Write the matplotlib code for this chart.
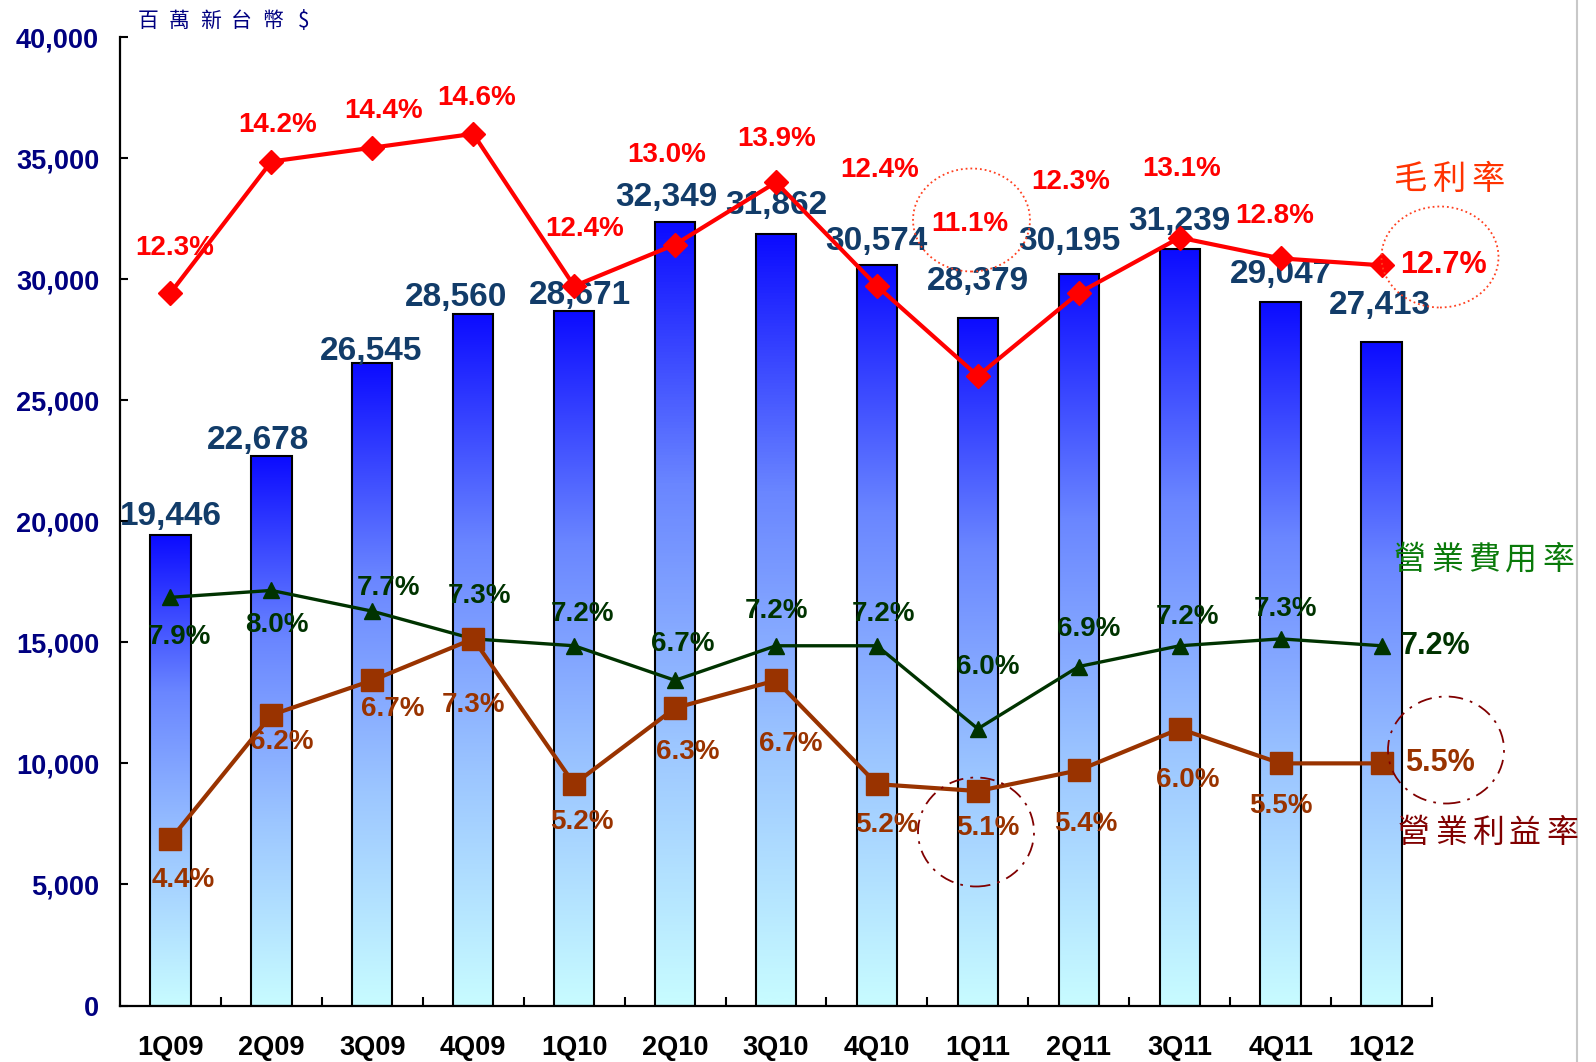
import matplotlib.pyplot as plt
import numpy as np
from matplotlib.colors import LinearSegmentedColormap
from matplotlib.patches import Ellipse
from matplotlib.lines import Line2D

quarters = ['1Q09', '2Q09', '3Q09', '4Q09', '1Q10', '2Q10', '3Q10',
            '4Q10', '1Q11', '2Q11', '3Q11', '4Q11', '1Q12']
revenue = [19446, 22678, 26545, 28560, 28671, 32349, 31862,
           30574, 28379, 30195, 31239, 29047, 27413]
gross_margin = [12.3, 14.2, 14.4, 14.6, 12.4, 13.0, 13.9, 12.4, 11.1, 12.3, 13.1, 12.8, 12.7]
opex_ratio = [7.9, 8.0, 7.7, 7.3, 7.2, 6.7, 7.2, 7.2, 6.0, 6.9, 7.2, 7.3, 7.2]
op_margin = [4.4, 6.2, 6.7, 7.3, 5.2, 6.3, 6.7, 5.2, 5.1, 5.4, 6.0, 5.5, 5.5]
yticks = [0, 5000, 10000, 15000, 20000, 25000, 30000, 35000, 40000]

# label offsets in pixels (dx, dy up) relative to the point
rev_off = [(0, 18), (-13, 16), (-1, 11), (-17, 16), (6, 16), (-9, 24), (0, 28),
           (-1, 23), (0, 36), (-9, 32), (0, 27), (0, 27), (-2, 36)]
gm_off = [(4, 44), (6, 36), (11, 36), (3, 35), (10, 56), (-8, 88), (1, 43),
          (3, 114), (-8, 149), (-8, 109), (2, 67), (-6, 42), (61, 0)]
ox_off = [(9, -39), (5, -34), (16, 23), (6, 42), (8, 31), (8, 36), (0, 34),
          (6, 31), (10, 61), (10, 37), (8, 28), (5, 29), (53, 0)]
om_off = [(13, -40), (10, -27), (20, -28), (0, -65), (8, -37), (12, -43), (14, -63),
          (10, -40), (10, -36), (7, -53), (8, -50), (0, -42), (57, 0)]

num_font = 'Liberation Sans'
cjk = ['Noto Sans CJK TC', 'DejaVu Sans']

W, H = 1596, 1062
fig = plt.figure(figsize=(W / 100, H / 100), dpi=100)
ax = fig.add_axes([120 / W, 1 - 1005.5 / H, 1312 / W, 968.5 / H])

x = np.arange(len(quarters))

# gradient bars
cmap = LinearSegmentedColormap.from_list('bar', ['#c8fcff', '#9cc6ff', '#6a86ff', '#0c0cff'])
grad = np.linspace(0, 1, 256).reshape(-1, 1)
bars = ax.bar(x, revenue, width=0.4, color='none', edgecolor='black', linewidth=1.5, zorder=3)
for b in bars:
    x0, w, h = b.get_x(), b.get_width(), b.get_height()
    ax.imshow(grad, cmap=cmap, aspect='auto', origin='lower',
              extent=[x0, x0 + w, 0, h], zorder=2, interpolation='bilinear')

for i, v in enumerate(revenue):
    dx, dy = rev_off[i]
    ax.annotate(f'{v:,}', (x[i], v), xytext=(dx * 1.018, dy * 1.018), textcoords='offset pixels',
                ha='center', va='center', fontsize=24, fontweight='bold', color='#123c69',
                family=num_font, zorder=5)

ax.set_xlim(-0.5, len(quarters) - 0.5)
ax.set_ylim(0, 40000)
ax.set_yticks(yticks)
ax.set_yticklabels([f'{t:,}' for t in yticks], fontsize=19.5, fontweight='bold',
                   color='#000080', family=num_font)
ax.tick_params(axis='y', direction='in', length=6, width=1.5, pad=15)
ax.set_xticks(x)
ax.set_xticklabels(quarters, fontsize=19.5, fontweight='bold', color='black', family=num_font)
ax.set_xticks(np.arange(len(quarters)) + 0.5, minor=True)
ax.tick_params(axis='x', which='major', length=0, pad=21)
ax.tick_params(axis='x', which='minor', direction='in', length=6.5, width=1.5)
for s in ['top', 'right']:
    ax.spines[s].set_visible(False)
for s in ['left', 'bottom']:
    ax.spines[s].set_linewidth(1.6)

# ratio lines on a hidden secondary scale
ax2 = ax.twinx()
ax2.set_ylim(2, 16)
ax2.axis('off')

ax2.plot(x, gross_margin, color='#ff0000', lw=3, marker='D', ms=12, mec='#ff0000', zorder=4)
ax2.plot(x, opex_ratio, color='#003300', lw=2.4, marker='^', ms=11, mec='#003300', zorder=4)
ax2.plot(x, op_margin, color='#993300', lw=3, marker='s', ms=16, mec='#993300', zorder=4)

series = [(gross_margin, gm_off, '#ff0000'),
          (opex_ratio, ox_off, '#003300'),
          (op_margin, om_off, '#993300')]
for vals, offs, col in series:
    for i, v in enumerate(vals):
        dx, dy = offs[i]
        last = i == len(vals) - 1
        ax2.annotate(f'{v:.1f}%', (x[i], v), xytext=(dx * 1.018, dy * 1.018),
                     textcoords='offset pixels', ha='center', va='center',
                     fontsize=22 if last else 20, fontweight='bold', color=col,
                     family=num_font, zorder=6)


def spaced(cx, cy, chars, step, size, color, weight='medium'):
    # letter-spaced text, one glyph at a time, in figure pixels
    n = len(chars)
    for k, ch in enumerate(chars):
        px = cx + (k - (n - 1) / 2) * step
        fig.text(px / W, 1 - cy / H, ch, fontsize=size, color=color, family=cjk,
                 ha='center', va='center', fontweight=weight)


spaced(1449, 179, '毛利率', 39, 24, '#ff3300')
spaced(1484, 560, '營業費用率', 37, 23, '#0a7a0a')
spaced(1488, 833, '營業利益率', 37, 23, '#800000')
spaced(226, 21, '百萬新台幣$', 31, 15, '#000080', 'normal')

# highlight circles
circles = [((971.5, 220), (117, 103), '#ff4020', ':'),
           ((1440, 257), (117, 101), '#ff4020', ':'),
           ((976, 832), (116, 109), '#800000', (0, (8, 4, 1.5, 4))),
           ((1446, 750), (116, 107), '#800000', (0, (8, 4, 1.5, 4)))]
for (cx, cy), (ew, eh), col, ls in circles:
    fig.add_artist(Ellipse((cx / W, 1 - cy / H), ew / W, eh / H, transform=fig.transFigure,
                           fill=False, edgecolor=col, lw=1.3, linestyle=ls, zorder=7))

fig.add_artist(Line2D([1577 / W, 1577 / W], [0, 1], transform=fig.transFigure,
                      color='#c8c8c8', lw=1.5))

fig.savefig('out.png', dpi=100)
